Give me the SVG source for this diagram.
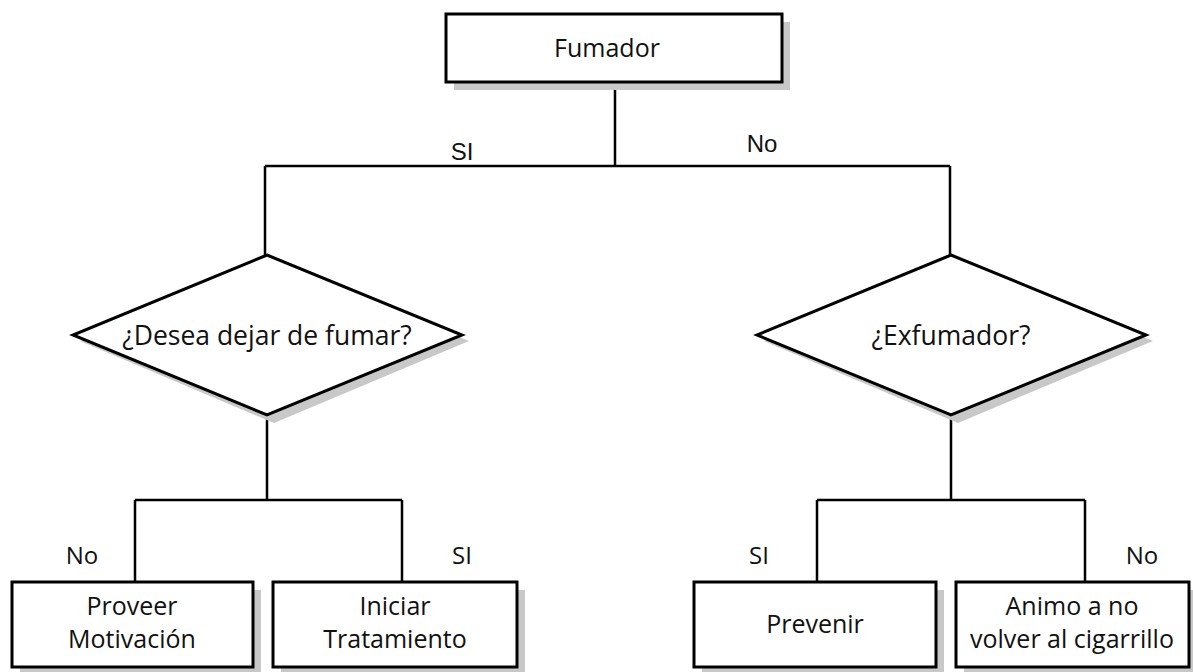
<svg xmlns="http://www.w3.org/2000/svg" width="1193" height="672" viewBox="0 0 1193 672">
<style>
.shape{fill:#fff;stroke:#000;stroke-width:3}
.shadow{fill:#c8c8c8;stroke:none}
.conn{fill:none;stroke:#000;stroke-width:2.5}
.t{font-family:"Open Sans","Noto Sans",sans-serif;font-size:25px;fill:#111;text-anchor:middle}
.td{font-family:"Open Sans","Noto Sans",sans-serif;font-size:26.5px;fill:#111;text-anchor:middle}
.lbl{font-family:"Liberation Sans Narrow","Liberation Sans",sans-serif;font-size:24px;fill:#111;text-anchor:middle}
.lbl2{font-family:"Open Sans","Noto Sans",sans-serif;font-size:24px;fill:#111;text-anchor:middle}
</style>
<rect width="1193" height="672" fill="#fff"/>
<g id="connectors">
<path class="conn" d="M615 82V166M265 166H950M265 166V255M950 166V255"/>
<path class="conn" d="M267 415V500M135 500H402M135 500V582M402 500V582"/>
<path class="conn" d="M951 415V500M817 500H1085M817 500V582M1085 500V582"/>
<text class="lbl" x="462" y="160">SI</text>
<text class="lbl" x="762" y="152">No</text>
<text class="lbl2" x="82" y="564">No</text>
<text class="lbl2" x="462" y="564">SI</text>
<text class="lbl2" x="759" y="564">SI</text>
<text class="lbl2" x="1142" y="564">No</text>
</g>
<g id="fumador">
<rect class="shadow" x="454" y="22" width="336" height="68"/>
<rect class="shape" x="446" y="14" width="336" height="68"/>
<text class="t" x="607" y="57">Fumador</text>
</g>
<g id="desea">
<polygon class="shadow" points="274,263 469,341 274,423 80,341"/>
<polygon class="shape" points="267,255 462,335 267,415 73,335"/>
<text class="td" x="267" y="345">¿Desea dejar de fumar?</text>
</g>
<g id="exfumador">
<polygon class="shadow" points="958,263 1153,341 958,423 764,341"/>
<polygon class="shape" points="951,255 1146,335 951,415 757,335"/>
<text class="td" x="951" y="345">¿Exfumador?</text>
</g>
<g id="proveer">
<rect class="shadow" x="20" y="590" width="241" height="85"/>
<rect class="shape" x="12" y="582" width="241" height="85"/>
<text class="t" x="132" y="615">Proveer</text>
<text class="t" x="132" y="648">Motivación</text>
</g>
<g id="iniciar">
<rect class="shadow" x="281" y="590" width="244" height="85"/>
<rect class="shape" x="273" y="582" width="244" height="85"/>
<text class="t" x="395" y="615">Iniciar</text>
<text class="t" x="395" y="648">Tratamiento</text>
</g>
<g id="prevenir">
<rect class="shadow" x="702" y="590" width="242" height="85"/>
<rect class="shape" x="694" y="582" width="242" height="85"/>
<text class="t" x="815" y="633">Prevenir</text>
</g>
<g id="animo">
<rect class="shadow" x="964" y="590" width="233" height="85"/>
<rect class="shape" x="956" y="582" width="233" height="85"/>
<text class="t" x="1072" y="615">Animo a no</text>
<text class="t" x="1072" y="648">volver al cigarrillo</text>
</g>
</svg>
